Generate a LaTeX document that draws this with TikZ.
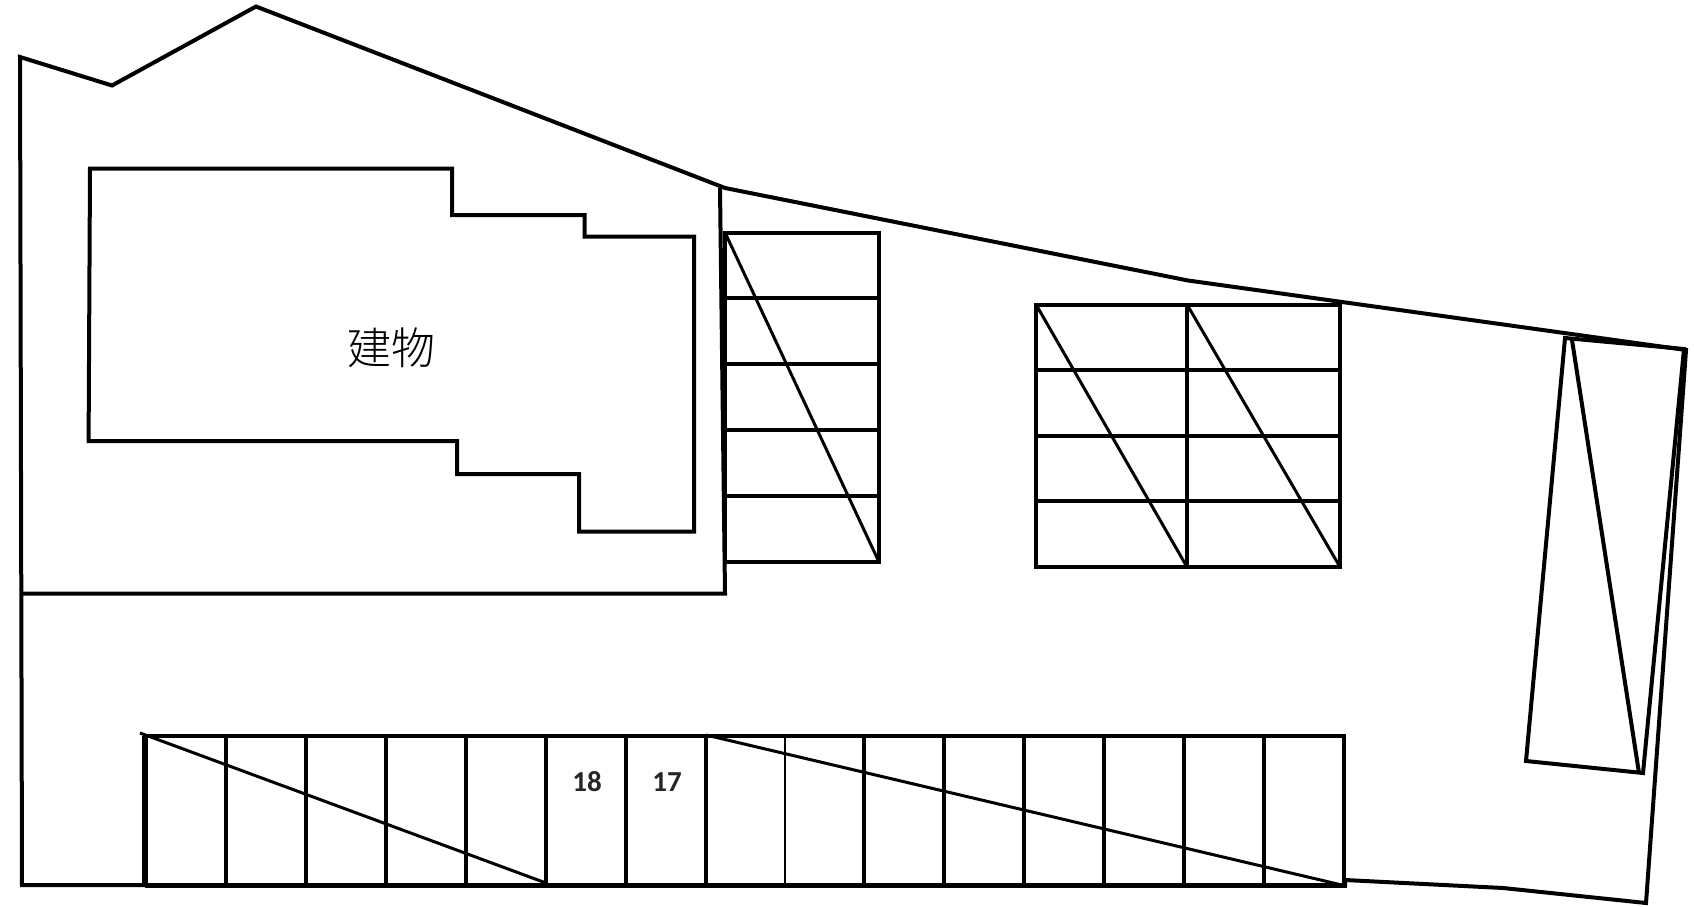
\documentclass[tikz,border=0pt]{standalone}
\usepackage{fontspec}
\newfontfamily\cjk{Noto Sans CJK JP Light}
\newfontfamily\lotnum{Carlito}
\tikzset{
    plan/.style={line width=4pt,line join=miter},
    thinplan/.style={line width=3pt},
    lotlabel/.style={font=\lotnum\bfseries\fontsize{29}{29}\selectfont,text=black!85},
}
\begin{document}
\begin{tikzpicture}[x=1pt,y=-1pt]
        \useasboundingbox (0,0) rectangle (1694,907);
        \draw[plan] (20,57) -- (112,85.5) -- (256,6.5) -- (725,188)
            -- (1188,280.5) -- (1686,350) -- (1646,903) -- (1503,888)
            -- (1345,880) -- (1345,885) -- (22,885) -- cycle;
        \draw[plan] (90,168.5) -- (452,168.5) -- (452,215) -- (584.5,215)
            -- (584.5,236.6) -- (694,236.6) -- (694,531.5) -- (579,531.5)
            -- (579,474) -- (457,474) -- (457,441) -- (88.6,441) -- cycle;
        \node (building) at (391,348) {\cjk\fontsize{44}{44}\selectfont 建物};
        \draw[plan] (22,593.5) -- (725,593.5) -- (720,188);
        \draw[plan] (725,232.5) rectangle (879,562);
        \foreach \y in {298,364,430,496} {
            \draw[plan] (725,\y) -- (879,\y);
        }
        \draw[thinplan] (725,232.5) -- (879,562);
        \draw[plan] (1036,304.5) rectangle (1340,567);
        \draw[plan] (1187,304.5) -- (1187,567);
        \foreach \y in {369.5,435.5,501} {
            \draw[plan] (1036,\y) -- (1340,\y);
        }
        \draw[thinplan] (1036,304.5) -- (1187,567);
        \draw[thinplan] (1187,304.5) -- (1340,567);
        \draw[plan] (145,735.5) rectangle (1344,885);
        \draw[line width=6pt] (145,735.5) -- (145,885);
        \draw[line width=5pt] (145,885) -- (1347,885);
        \foreach \x in {226,306,386,466,546,626,706,864,944,1024,1104,1184,1264} {
            \draw[plan] (\x,735.5) -- (\x,885);
        }
        \draw[line width=2pt] (785,735.5) -- (785,885);
        \draw[thinplan] (140,733) -- (546,883);
        \draw[thinplan] (706,735) -- (1346,886);
        \node[lotlabel] (lot18) at (587,782) {18};
        \node[lotlabel] (lot17) at (667,782) {17};
        \draw[plan] (1565,338) -- (1684,349) -- (1643,773) -- (1526,761) -- cycle;
        \draw[plan] (1572,340) -- (1639,773);
\end{tikzpicture}
\end{document}
